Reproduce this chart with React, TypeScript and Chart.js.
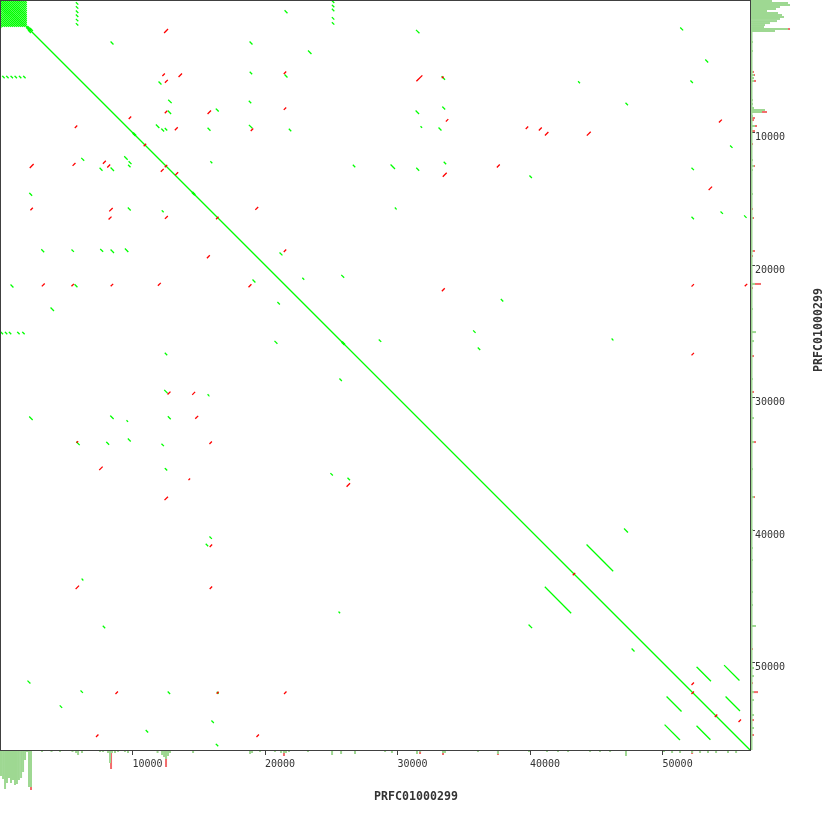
import React, { useEffect, useRef } from 'react';
import { Chart, registerables } from 'chart.js';

Chart.register(...registerables);

const SEQ_NAME = 'PRFC01000299';
const SEQ_LEN = 56600;
const TICKS = [10000, 20000, 30000, 40000, 50000];
const HIST_BP_PER_COUNT = 75.5;

// forward matches: [xStart, yStart, length] in bp (x and y both increase)
const forwardMatches: number[][] = [
  [0, 0, 56600],
  [2000, 2100, 250], [2100, 2000, 250], [2150, 2300, 150], [2300, 2150, 150],
  [10040, 10090, 150], [10090, 10040, 150],
  [14510, 14560, 150], [14560, 14510, 150],
  [25810, 25860, 150], [25860, 25810, 150],
  [5760, 200, 115], [5760, 500, 115], [5760, 830, 115], [5760, 1130, 115], [5760, 1460, 115], [5760, 1780, 115],
  [200, 5760, 115], [500, 5760, 115], [830, 5760, 115], [1130, 5760, 115], [1460, 5760, 115], [1780, 5760, 115],
  [25080, 80, 115], [25080, 400, 115], [25080, 700, 115], [25080, 1330, 115], [25080, 1710, 115],
  [80, 25080, 115], [400, 25080, 115], [700, 25080, 115], [1330, 25080, 115], [1710, 25080, 115],
  [21510, 810, 150], [8380, 3170, 150], [18870, 3170, 150], [23280, 3850, 190], [12000, 6190, 150],
  [18880, 5450, 115], [21510, 5660, 150], [12730, 7560, 190], [18810, 7640, 115], [12690, 8380, 190],
  [16320, 8230, 150], [11800, 9430, 190], [12200, 9740, 150], [12470, 9700, 115], [15700, 9680, 150],
  [18820, 9460, 190], [21830, 9750, 115], [6170, 11950, 150], [9410, 11830, 190], [9740, 12200, 150],
  [7550, 12700, 150], [8380, 12680, 190], [9700, 12470, 115], [15910, 12210, 75], [26660, 12470, 115],
  [2240, 14590, 150], [9680, 15700, 150], [12240, 15910, 75], [3150, 18850, 150], [5430, 18860, 115],
  [7600, 18820, 150], [8380, 18870, 190], [9460, 18790, 190], [21130, 19090, 150], [22850, 21000, 75],
  [25790, 20780, 150], [19090, 21130, 150], [830, 21510, 150], [5660, 21490, 150], [20970, 22830, 115],
  [3850, 23240, 190], [20750, 25760, 150], [12470, 26660, 115],
  [31430, 2290, 190], [51370, 2110, 150], [53260, 4530, 150], [33360, 5790, 190], [43660, 6170, 75],
  [52140, 6110, 115], [47240, 7790, 115], [31400, 8380, 190], [33410, 8080, 150], [31770, 9560, 50],
  [33130, 9660, 150], [55130, 11010, 115], [29510, 12450, 265], [31450, 12700, 150], [33520, 12240, 115],
  [39990, 13280, 115], [52220, 12690, 115], [29830, 15700, 50], [52220, 16390, 115], [54410, 15990, 115],
  [56190, 16290, 115], [37830, 22600, 115], [35740, 24970, 115], [28620, 25650, 115], [36090, 26260, 115],
  [46190, 25580, 50],
  [25650, 28600, 115], [12430, 29460, 190], [15700, 29790, 50], [2240, 31470, 190], [8350, 31400, 190],
  [9580, 31750, 50], [12700, 31450, 150], [5790, 33370, 190], [8050, 33380, 150], [9680, 33130, 150],
  [12220, 33520, 115], [12470, 35360, 115], [24970, 35740, 115], [26260, 36090, 115], [15840, 40520, 115],
  [15560, 41070, 115], [6190, 43700, 50], [25580, 46190, 50], [7790, 47260, 115], [2110, 51400, 150],
  [6110, 52140, 115], [12690, 52220, 115], [16390, 52240, 75], [4540, 53270, 115], [15990, 54410, 115],
  [11030, 55130, 115], [16320, 56170, 115],
  [47130, 39920, 225], [44300, 41130, 1940], [41150, 44320, 1920], [39920, 47170, 200], [47700, 48980, 150],
  [52600, 50360, 1020], [54680, 50230, 1090], [50340, 52600, 1060], [54790, 52600, 1020],
  [50190, 54720, 1090], [52600, 54810, 980],
];

// reverse matches: [xStart, yStart, length] in bp (x increases while y decreases)
const reverseMatches: number[][] = [
  [12420, 2450, 225], [2280, 12640, 225], [12290, 5700, 115], [13510, 5770, 190], [21450, 5550, 115],
  [12480, 6210, 150], [12470, 8510, 115], [15700, 8570, 190], [21450, 8260, 115], [9750, 8940, 115],
  [5680, 9620, 115], [13230, 9790, 150], [18960, 9850, 115], [10880, 11000, 115], [5510, 12480, 150],
  [7800, 12320, 150], [8130, 12600, 150], [12470, 12590, 115], [12170, 12930, 150], [13260, 13180, 150],
  [2330, 15830, 115], [8280, 15920, 190], [8230, 16530, 150], [12480, 16480, 150], [16340, 16510, 115],
  [19300, 15800, 150], [15650, 19450, 150], [21450, 18980, 115], [18790, 21640, 150], [3190, 21580, 150],
  [5430, 21570, 115], [8390, 21570, 115], [11950, 21530, 150],
  [33380, 5860, 50], [31460, 6100, 380], [33680, 9140, 115], [54290, 9210, 150], [39710, 9700, 115],
  [40700, 9810, 150], [41160, 10190, 190], [44320, 10200, 225], [37530, 12600, 150], [33450, 13300, 225],
  [53510, 14310, 190], [33380, 21940, 150], [52220, 21590, 115], [56240, 21570, 115], [52220, 26780, 115],
  [12680, 29740, 150], [14540, 29760, 150], [14770, 31570, 150], [5810, 33380, 50], [15840, 33470, 115],
  [7520, 35440, 190], [14260, 36200, 50], [26190, 36700, 190], [12450, 37710, 190], [15860, 41240, 115],
  [5740, 44420, 190], [15860, 44410, 115], [8750, 52340, 115], [16390, 52320, 75], [21470, 52340, 115],
  [7280, 55580, 115], [19390, 55580, 115],
  [43260, 43380, 115], [52220, 51660, 115], [52220, 52340, 115], [53980, 54070, 115], [55770, 54450, 115],
];

// tandem repeat block at the start of the sequence
const repeatBlockEnd = 2020;
const repeatBlockOffsets = [
  -1950, -1800, -1650, -1500, -1350, -1200, -1050, -900, -750, -600, -450, -300, -150,
  150, 300, 450, 600, 750, 900, 1050, 1200, 1350, 1500, 1650, 1800, 1950,
];

// coverage histograms: [bin centre (bp), count]
const bottomHistGreen: number[][] = [
  [75, 26], [230, 29], [380, 39], [530, 33], [680, 28], [830, 33], [980, 30], [1130, 35], [1280, 34],
  [1430, 30], [1590, 28], [1740, 22], [1890, 10], [2040, 2], [2190, 37], [2340, 37],
  [3170, 2], [3890, 2], [4530, 2], [5470, 2], [5740, 3], [5890, 5], [6190, 3], [7550, 2], [7770, 2],
  [8150, 3], [8300, 13], [8450, 3], [8680, 3], [8910, 2], [9430, 2], [9660, 3], [11890, 3], [12230, 5],
  [12380, 7], [12530, 9], [12680, 6], [12830, 3], [14570, 3], [18870, 4], [19020, 3], [19620, 2],
  [20750, 2], [21210, 3], [21430, 3], [21580, 3], [21810, 2], [23240, 2], [25060, 5], [25740, 4],
  [26790, 4], [28530, 1], [29060, 2], [29580, 3], [31470, 4], [31700, 2], [33430, 3], [33580, 3],
  [36070, 2], [37580, 4], [39920, 2], [41280, 2], [42110, 2], [42870, 2], [44530, 2], [45280, 2],
  [46040, 2], [47240, 6], [50110, 2], [50720, 3], [51320, 3], [52230, 3], [52830, 3], [53430, 3],
  [54040, 3], [54940, 3], [55550, 3],
];
const bottomHistRed: number[][] = [
  [2340, 40], [8380, 19], [12530, 17], [21430, 6], [31700, 4], [33430, 5], [37580, 5], [52230, 4],
];
const rightHistGreen: number[][] = [
  [75, 22], [230, 38], [380, 40], [530, 30], [680, 26], [830, 17], [980, 28], [1130, 32], [1280, 34],
  [1430, 30], [1590, 27], [1740, 20], [1890, 15], [2040, 14], [2190, 38], [2340, 25],
  [3170, 3], [3850, 3], [5430, 3], [5660, 4], [5890, 4], [6110, 4], [7550, 3], [7850, 3],
  [8150, 4], [8300, 15], [8450, 12], [8750, 3], [9510, 5], [12080, 3], [12530, 4], [12830, 3],
  [14640, 3], [16450, 3], [18940, 3], [21430, 5], [23320, 3], [25060, 6], [25740, 4], [28600, 3],
  [31550, 4], [33360, 4], [35400, 3], [37510, 4], [40000, 3], [41360, 3], [42260, 3], [44680, 3],
  [45660, 3], [47240, 6], [50410, 4], [51020, 4], [52230, 4], [52830, 4], [53960, 4], [54940, 4],
];
const rightHistRed: number[][] = [
  [2190, 40], [5430, 4], [5660, 5], [6110, 6], [8450, 17], [8910, 5], [9060, 4], [9510, 7], [9890, 5],
  [10870, 3], [12530, 5], [15770, 3], [16450, 4], [18940, 5], [19320, 3], [21430, 11], [21740, 3],
  [26870, 4], [29580, 4], [33360, 6], [37510, 5], [48980, 3], [51550, 3], [52230, 8], [53960, 4],
  [54340, 4], [55470, 4],
];
// self-match coverage along the y sequence: [start bp, end bp, count]
const rightHistBaseline = [2420, 56600, 2.5];

const FONT = 'DejaVu Sans Mono';
const AXIS_COLOR = '#404040';
const TEXT_COLOR = '#333333';
const FWD_COLOR = '#00ff00';
const REV_COLOR = '#ff0000';
const HIST_GREEN = '#9ed892';
const HIST_RED = '#f26c6c';
const MATCH_WIDTH = 1.3;

const blockSegments = repeatBlockOffsets.map((d) =>
  d > 0 ? [d, 0, repeatBlockEnd - d] : [0, -d, repeatBlockEnd + d]
);

function matchDatasets(list: number[][], dir: number, color: string, order: number, cap: string) {
  return list.map(([x, y, len]) => ({
    type: 'scatter',
    data: [
      { x, y },
      { x: x + len, y: y + dir * len },
    ],
    showLine: true,
    borderColor: color,
    backgroundColor: color,
    borderWidth: MATCH_WIDTH,
    borderCapStyle: cap,
    pointRadius: 0,
    pointHoverRadius: 0,
    order,
  }));
}

const framePlugin = {
  id: 'frame',
  afterDatasetsDraw(chart: any) {
    const { ctx, chartArea: a } = chart;
    ctx.save();
    ctx.strokeStyle = AXIS_COLOR;
    ctx.lineWidth = 1;
    ctx.strokeRect(a.left + 0.5, a.top + 0.5, a.right - a.left, a.bottom - a.top);
    ctx.restore();
  },
};

const titlePlugin = {
  id: 'axisTitles',
  afterDraw(chart: any) {
    const { ctx } = chart;
    ctx.save();
    ctx.fillStyle = TEXT_COLOR;
    ctx.font = `bold 11.6px "${FONT}"`;
    ctx.textAlign = 'center';
    ctx.textBaseline = 'middle';
    ctx.fillText(SEQ_NAME, 416, 797);
    ctx.translate(819, 330);
    ctx.rotate(-Math.PI / 2);
    ctx.fillText(SEQ_NAME, 0, 0);
    ctx.restore();
  },
};

function axisOptions(position: string, reverse: boolean, isX: boolean) {
  return {
    type: 'linear',
    position,
    reverse,
    min: 0,
    max: SEQ_LEN,
    offset: false,
    grid: {
      display: true,
      offset: false,
      drawOnChartArea: false,
      drawTicks: true,
      tickLength: 5,
      color: AXIS_COLOR,
      tickColor: AXIS_COLOR,
      lineWidth: 1,
    },
    border: { display: false },
    ticks: {
      includeBounds: false,
      autoSkip: false,
      maxRotation: 0,
      align: 'start',
      padding: isX ? 3 : 0,
      color: TEXT_COLOR,
      font: { family: FONT, size: 10 },
      callback: (v: number) => String(v),
    },
    afterBuildTicks: (s: any) => {
      s.ticks = TICKS.map((v) => ({ value: v }));
    },
    afterFit: (s: any) => {
      if (isX) s.height = 80;
      else s.width = 80;
    },
  };
}

export default function App() {
  const ref = useRef<HTMLCanvasElement>(null);

  useEffect(() => {
    document.body.style.margin = '0';
    const histBar = {
      type: 'bar',
      barThickness: 2,
      grouped: false,
      clip: false,
      borderWidth: 0,
      inflateAmount: 0,
    };
    const [bStart, bEnd, bCount] = rightHistBaseline;
    const chart = new Chart(ref.current as HTMLCanvasElement, {
      type: 'scatter',
      data: {
        datasets: [
          ...matchDatasets(reverseMatches, -1, REV_COLOR, 0, 'square'),
          ...matchDatasets(forwardMatches, 1, FWD_COLOR, 1, 'square'),
          ...matchDatasets(blockSegments, 1, FWD_COLOR, 1, 'butt'),
          {
            ...histBar,
            data: bottomHistRed.map(([p, n]) => ({ x: p, y: [SEQ_LEN, SEQ_LEN + n * HIST_BP_PER_COUNT] })),
            backgroundColor: HIST_RED,
            order: 4,
          },
          {
            ...histBar,
            data: bottomHistGreen.map(([p, n]) => ({ x: p, y: [SEQ_LEN, SEQ_LEN + n * HIST_BP_PER_COUNT] })),
            backgroundColor: HIST_GREEN,
            order: 3,
          },
          {
            ...histBar,
            indexAxis: 'y',
            data: rightHistRed.map(([p, n]) => ({ y: p, x: [SEQ_LEN, SEQ_LEN + n * HIST_BP_PER_COUNT] })),
            backgroundColor: HIST_RED,
            order: 4,
          },
          {
            ...histBar,
            indexAxis: 'y',
            data: rightHistGreen.map(([p, n]) => ({ y: p, x: [SEQ_LEN, SEQ_LEN + n * HIST_BP_PER_COUNT] })),
            backgroundColor: HIST_GREEN,
            order: 3,
          },
          {
            type: 'scatter',
            data: [
              { x: SEQ_LEN + (bCount / 2) * HIST_BP_PER_COUNT, y: bStart },
              { x: SEQ_LEN + (bCount / 2) * HIST_BP_PER_COUNT, y: bEnd },
            ],
            showLine: true,
            borderColor: HIST_GREEN,
            borderWidth: bCount,
            borderCapStyle: 'butt',
            pointRadius: 0,
            pointHoverRadius: 0,
            clip: false,
            order: 2,
          },
        ] as any,
      },
      options: {
        responsive: false,
        animation: false,
        events: [],
        layout: { padding: 0, autoPadding: false },
        plugins: {
          legend: { display: false },
          tooltip: { enabled: false },
          title: { display: false },
        },
        scales: {
          x: axisOptions('bottom', false, true),
          y: axisOptions('right', true, false),
        } as any,
      },
      plugins: [framePlugin, titlePlugin],
    } as any);
    return () => chart.destroy();
  }, []);

  return <canvas ref={ref} width={830} height={830} style={{ display: 'block' }} />;
}
